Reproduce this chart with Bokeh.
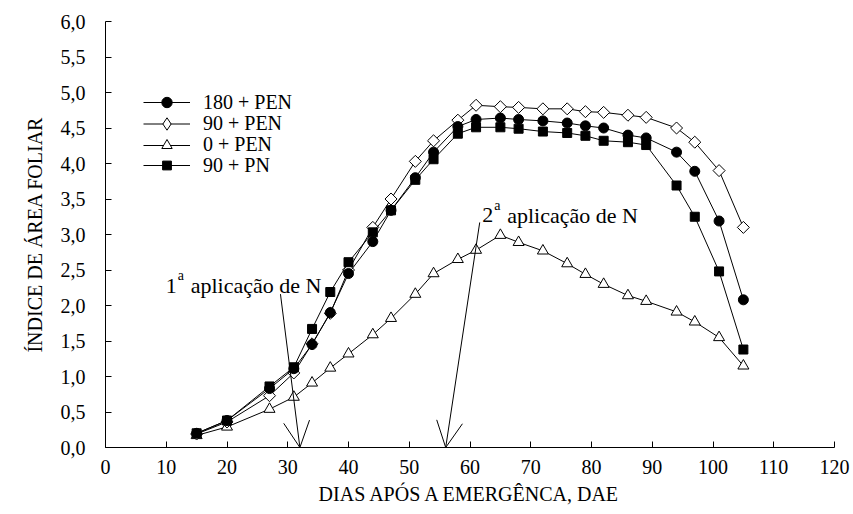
import math
from bokeh.plotting import figure
from bokeh.models import (Range1d, FixedTicker, CustomJSTickFormatter, Legend, LegendItem,
                          Arrow, OpenHead, Label, ColumnDataSource)
from bokeh.embed import file_html
from bokeh.resources import INLINE

# ---------------- data ----------------
dae = [15, 20, 27, 31, 34, 37, 40, 44, 47, 51, 54, 58, 61, 65, 68, 72, 76, 79, 82, 86, 89, 94, 97, 101, 105]
iaf_180_pen = [0.20, 0.38, 0.83, 1.11, 1.45, 1.90, 2.45, 2.90, 3.34, 3.80, 4.16, 4.52, 4.62, 4.64, 4.62,
               4.60, 4.57, 4.53, 4.50, 4.40, 4.36, 4.16, 3.89, 3.19, 2.08]
iaf_90_pen = [0.19, 0.36, 0.73, 1.05, 1.46, 1.89, 2.50, 3.10, 3.50, 4.03, 4.32, 4.61, 4.82, 4.80, 4.79,
              4.77, 4.77, 4.73, 4.72, 4.68, 4.65, 4.50, 4.30, 3.90, 3.10]
iaf_0_pen = [0.17, 0.29, 0.54, 0.71, 0.91, 1.12, 1.32, 1.59, 1.82, 2.16, 2.45, 2.65, 2.78, 2.99, 2.89,
             2.77, 2.59, 2.44, 2.30, 2.14, 2.06, 1.91, 1.77, 1.55, 1.15]
iaf_90_pn = [0.20, 0.38, 0.86, 1.13, 1.67, 2.19, 2.61, 3.03, 3.34, 3.77, 4.06, 4.42, 4.51, 4.51, 4.49,
             4.45, 4.43, 4.39, 4.32, 4.30, 4.26, 3.69, 3.25, 2.48, 1.38]
series_labels = ["180 + PEN", "90 + PEN", "0 + PEN", "90 + PN"]
x_ticks = [0, 10, 20, 30, 40, 50, 60, 70, 80, 90, 100, 110, 120]
y_ticks = [0.0, 0.5, 1.0, 1.5, 2.0, 2.5, 3.0, 3.5, 4.0, 4.5, 5.0, 5.5, 6.0]

# N applications (day) and annotation anchor points
n_app_days = [32, 56]
arrow_starts = [(28.8, 2.16), (61.6, 3.17)]
note_pos = [(9.9, 2.28), (62.0, 3.27)]
note_num = ["1", "2"]

FONT = "Liberation Serif"

p = figure(width=853, height=514, output_backend="svg", toolbar_location=None,
           x_range=Range1d(0, 120), y_range=Range1d(0, 6),
           min_border_left=105, min_border_right=19, min_border_top=21, min_border_bottom=67)
p.grid.visible = False
p.outline_line_color = None
p.background_fill_color = "white"
p.border_fill_color = "white"

for ax in (p.xaxis[0], p.yaxis[0]):
    ax.major_tick_in = 6
    ax.major_tick_out = 0
    ax.minor_tick_in = 0
    ax.minor_tick_out = 0
    ax.axis_line_color = "black"
    ax.major_tick_line_color = "black"
    ax.major_label_text_font = FONT
    ax.major_label_text_font_size = "20px"
    ax.major_label_text_color = "black"
    ax.axis_label_text_font = FONT
    ax.axis_label_text_font_size = "20px"
    ax.axis_label_text_font_style = "normal"
    ax.axis_label_text_color = "black"

p.xaxis[0].ticker = FixedTicker(ticks=x_ticks)
p.yaxis[0].ticker = FixedTicker(ticks=y_ticks)
p.yaxis[0].formatter = CustomJSTickFormatter(code="return tick.toFixed(1).replace('.', ',');")
p.xaxis[0].axis_label = "DIAS APÓS A EMERGÊNCA, DAE"
p.yaxis[0].axis_label = "ÍNDICE DE ÁREA FOLIAR"
p.xaxis[0].major_label_standoff = 12
p.xaxis[0].axis_label_standoff = 6
p.yaxis[0].major_label_standoff = 20
p.yaxis[0].axis_label_standoff = 12

# series: triangle, diamond, circle, square (draw order)
src90 = ColumnDataSource(dict(x=dae, y=iaf_90_pen))
l0 = p.line(dae, iaf_0_pen, line_color="black", line_width=1)
s0 = p.scatter(dae, iaf_0_pen, marker="triangle", size=11, fill_color="white", line_color="black", line_width=1)
l90 = p.line("x", "y", source=src90, line_color="black", line_width=1)
s90 = p.scatter("x", "y", source=src90, marker="square", angle=math.pi / 4, size=8.5, fill_color="white",
                line_color="black", line_width=1)
# legend-only diamond glyph (zero size in the plot; the legend sizes it itself)
s90_leg = p.scatter("x", "y", source=src90, marker="diamond", size=0, fill_color="white",
                    line_color="black", line_width=1)
l180 = p.line(dae, iaf_180_pen, line_color="black", line_width=1)
s180 = p.scatter(dae, iaf_180_pen, marker="circle", size=10, fill_color="black", line_color="black")
lpn = p.line(dae, iaf_90_pn, line_color="black", line_width=1)
spn = p.scatter(dae, iaf_90_pn, marker="square", size=9, fill_color="black", line_color="black")

# one legend per entry, so the legend markers can be as large as in the plot
legend_entries = [(series_labels[0], [l180, s180], 26),
                  (series_labels[1], [l90, s90_leg], 31),
                  (series_labels[2], [l0, s0], 26),
                  (series_labels[3], [lpn, spn], 22)]
frame_h = 514 - 21 - 67
first_center = 102 - 21   # px below the frame top
step = 21.3
for i, (lab, rends, gh) in enumerate(legend_entries):
    center = first_center + i * step
    bottom_from_frame_bottom = frame_h - (center + gh / 2)
    lg = Legend(items=[LegendItem(label=lab, renderers=rends)],
                location=(38, bottom_from_frame_bottom), orientation="vertical")
    lg.border_line_color = None
    lg.background_fill_alpha = 0
    lg.padding = 0
    lg.margin = 0
    lg.spacing = 0
    lg.glyph_width = 47
    lg.glyph_height = gh
    lg.label_height = gh
    lg.label_standoff = 13
    lg.label_text_font = FONT
    lg.label_text_font_size = "20px"
    lg.label_text_color = "black"
    p.add_layout(lg)

# arrows + notes for N applications
for (xs, ys), day in zip(arrow_starts, n_app_days):
    p.add_layout(Arrow(end=OpenHead(size=26, line_width=1, line_color="black"),
                       x_start=xs, y_start=ys, x_end=day, y_end=0,
                       line_color="black", line_width=1))

for (nx, ny), num in zip(note_pos, note_num):
    p.add_layout(Label(x=nx, y=ny, text=num, text_font=FONT, text_font_size="22px",
                       text_baseline="alphabetic", text_align="left", text_color="black"))
    p.add_layout(Label(x=nx, y=ny, text="a", x_offset=12, y_offset=10, text_font=FONT,
                       text_font_size="14px", text_baseline="alphabetic", text_align="left",
                       text_color="black"))
    p.add_layout(Label(x=nx, y=ny, text="aplicação de N", x_offset=25, text_font=FONT,
                       text_font_size="22px", text_baseline="alphabetic", text_align="left",
                       text_color="black"))

open("out.html", "w").write(file_html(p, INLINE))
